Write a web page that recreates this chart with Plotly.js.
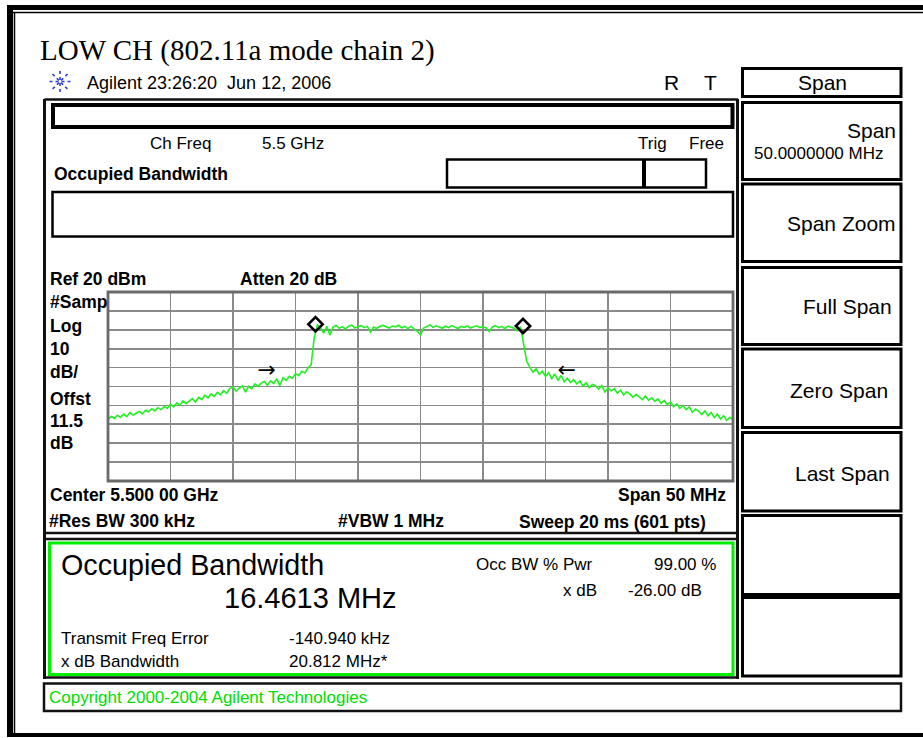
<!DOCTYPE html>
<html>
<head>
<meta charset="utf-8">
<script src="https://cdn.plot.ly/plotly-3.0.1.min.js"></script>
<style>
  html, body { margin: 0; padding: 0; background: #ffffff; }
  #chart { width: 923px; height: 738px; }
</style>
</head>
<body>
<div id="chart"></div>
<script>
// ---------------- DATA ----------------
const startMHz = 5475;      // Center 5.500 00 GHz, Span 50 MHz
const stopMHz = 5525;
const refLevel = 20;        // Ref 20 dBm
const dbPerDiv = 10;        // Log 10 dB/

// trace levels in dBm, one every 0.25 MHz from start to stop
const lowerSkirt = [
  -47.5, -45.8, -46.9, -45.2, -46.3, -44.6, -45.9, -43.8, -45.1, -44.0,
  -43.2, -44.5, -42.6, -43.4, -41.8, -42.9, -41.2, -42.3, -40.5, -41.6,
  -39.4, -40.8, -38.7, -39.9, -37.6, -39.1, -37.9, -36.4, -38.2, -35.8,
  -36.9, -34.6, -36.0, -33.9, -35.2, -33.1, -34.4, -32.2, -33.6, -31.0,
  -30.2, -32.5, -30.8, -29.6, -33.0, -29.9, -31.2, -28.7, -30.0, -28.2,
  -27.4, -29.3, -27.0, -28.4, -26.1, -29.5, -25.4, -26.8, -24.6, -25.7,
  -23.2, -24.3, -21.9, -22.8, -20.1, -18.5
];
const risingEdge = [-4.0];
const plateau = [
  2.6, 1.2, -1.8, 1.9, -2.9, 1.4, 2.3, 0.8, 1.7, 0.3,
  1.9, 2.4, 0.9, 1.6, 2.2, 1.1, 1.8, -1.2, 1.5, 0.7,
  1.9, 2.3, 1.4, 0.9, 2.0, 1.6, 2.4, 1.1, 1.8, 0.6,
  1.9, 0.2, -0.8, -2.6, 0.9, 1.7, 2.6, 1.3, 2.1, 1.5,
  0.8, 1.9, 1.2, 2.2, 1.4, 0.7, 1.8, 1.3, 2.0, 0.9,
  1.6, 2.1, 1.2, 1.7, 1.0, -0.9, 1.5, 2.2, 1.1, 1.8,
  0.6, 1.9, 1.4, 0.8, -0.6, 1.6
];
const fallingEdge = [-7.5, -16.8];
const upperSkirt = [
  -19.9, -22.4, -20.6, -23.5, -21.8, -24.6, -22.7, -25.9, -23.4, -26.8,
  -24.2, -27.5, -25.6, -27.9, -26.4, -28.6, -27.1, -29.8, -28.0, -30.6,
  -28.9, -29.6, -31.4, -29.5, -32.9, -30.8, -32.3, -31.1, -33.6, -32.0,
  -34.5, -32.8, -33.9, -35.7, -34.1, -35.3, -36.9, -35.0, -37.2, -36.0,
  -37.8, -36.6, -38.9, -37.4, -39.6, -38.3, -40.7, -39.2, -41.5, -40.1,
  -42.2, -40.8, -43.6, -41.9, -43.0, -44.8, -42.9, -45.5, -43.8, -46.4,
  -44.6, -47.2, -45.5, -47.9, -46.3, -47.6
];

// occupied-bandwidth markers (diamonds) and x dB arrows
const markerFreqMHz = [5491.6, 5508.2];
const markerLevel = [2.9, 2.0];
const arrowFreqMHz = [5487.7, 5511.7];
const arrowLevel = [-22.2, -22.2];
const arrowText = ['\u2192', '\u2190'];

// ---------------- BUILD ----------------
const levels = lowerSkirt.concat(risingEdge, plateau, fallingEdge, upperSkirt);
const freqs = levels.map((_, i) => startMHz + i * (stopMHz - startMHz) / (levels.length - 1));

const W = 923, H = 738, L = 108, R = 190, T = 292, B = 257;
const PW = W - L - R, PH = H - T - B;
const px = x => (x - L) / PW;
const py = y => (H - B - y) / PH;

const shapes = [];
function rect(x0, y0, x1, y1, color, width) {
  shapes.push({type: 'rect', xref: 'paper', yref: 'paper', layer: 'above',
    x0: px(x0), x1: px(x1), y0: py(y1), y1: py(y0),
    line: {color: color, width: width}, fillcolor: 'rgba(0,0,0,0)'});
}
function seg(x0, y0, x1, y1, color, width, dash) {
  shapes.push({type: 'line', xref: 'paper', yref: 'paper', layer: 'above',
    x0: px(x0), x1: px(x1), y0: py(y0), y1: py(y1),
    line: {color: color, width: width, dash: dash || 'solid'}});
}
const annotations = [];
const SANS = 'Liberation Sans, Arial, sans-serif';
function txt(text, x, y, size, opts) {
  opts = opts || {};
  annotations.push({xref: 'paper', yref: 'paper', x: px(x), y: py(y),
    xanchor: opts.anchor || 'left', yanchor: 'middle', text: text,
    showarrow: false, borderpad: 0,
    font: {family: opts.family || SANS, size: size, color: opts.color || '#000000',
           weight: opts.bold ? 'bold' : 'normal'}});
}

// outer document frame
seg(7, 7.5, 923, 7.5, '#000', 5);
seg(10, 5, 10, 737, '#000', 6);
seg(7, 735, 923, 735, '#000', 4);
seg(13, 12.5, 923, 12.5, '#000', 1.5);
seg(14.5, 12, 14.5, 733, '#000', 1.5);

// Agilent logo
const lc = '#2a3ae0';
seg(49.5, 81.5, 70.5, 81.5, lc, 1.6, 'dot');
seg(60, 71, 60, 92, lc, 1.6, 'dot');
seg(52.5, 74, 67.5, 89, lc, 1.6, 'dot');
seg(67.5, 74, 52.5, 89, lc, 1.6, 'dot');

// display panel
seg(44.5, 99.5, 738, 99.5, '#111', 2.5);
seg(44.5, 99, 44.5, 679, '#111', 3);
seg(737.5, 99, 737.5, 679, '#111', 3);
rect(53, 105, 732.5, 127, '#000', 4);
rect(447, 159.5, 706, 187.5, '#000', 2.5);
seg(644, 159, 644, 188, '#000', 4);
rect(52.5, 192, 733, 236.5, '#000', 2.5);
seg(44.5, 533, 738, 533, '#111', 2.5);
rect(44.5, 539, 737.5, 677.5, '#111', 2.5);
rect(49.5, 543, 733, 674.5, '#00ee00', 3);
rect(44, 683.5, 901, 711, '#111', 2.5);

// grid border
shapes.push({type: 'rect', xref: 'paper', yref: 'paper', layer: 'above',
  x0: 0, x1: 1, y0: 0, y1: 1, line: {color: '#6a6a6a', width: 2.8}});

// softkey column
const keyRows = [[68.5, 96.5], [102.5, 179.5], [184, 261.5], [267.5, 344.5],
                 [349, 427.5], [432.5, 511], [515.5, 594.5], [597.5, 676]];
keyRows.forEach(r => rect(742.5, r[0], 901, r[1], '#000', 3));

// texts
txt('LOW CH (802.11a mode chain 2)', 39, 50, 29, {family: 'Liberation Serif, Times New Roman, serif'});
txt('Agilent 23:26:20\u00a0\u00a0Jun 12, 2006', 86, 82.5, 18);
txt('R', 663, 82, 21);
txt('T', 703, 82, 21);
txt('Span', 822, 83, 21, {anchor: 'center'});
txt('Span', 897, 130.5, 21, {anchor: 'right'});
txt('50.0000000 MHz', 753, 153.5, 17);
txt('Span Zoom', 897, 223, 21, {anchor: 'right'});
txt('Full Span', 893, 306, 21, {anchor: 'right'});
txt('Zero Span', 889, 390, 21, {anchor: 'right'});
txt('Last Span', 891, 473, 21, {anchor: 'right'});

txt('Ch Freq', 149, 143, 17);
txt('5.5 GHz', 261, 143, 17);
txt('Trig', 637, 143, 17);
txt('Free', 688, 143, 17);
txt('Occupied Bandwidth', 53, 174, 17.5, {bold: true});

txt('Ref 20 dBm', 49, 278.5, 17.5, {bold: true});
txt('Atten 20 dB', 239, 278.5, 17.5, {bold: true});
const sideLabels = [['#Samp', 301.5], ['Log', 326], ['10', 349], ['dB/', 372],
                    ['Offst', 399], ['11.5', 421], ['dB', 442.5]];
sideLabels.forEach(s => txt(s[0], 49, s[1], 17.5, {bold: true}));
txt('Center 5.500 00 GHz', 49, 495, 17.5, {bold: true});
txt('Span 50 MHz', 727, 495, 17.5, {bold: true, anchor: 'right'});
txt('#Res BW 300 kHz', 48, 521, 17.5, {bold: true});
txt('#VBW 1 MHz', 337, 521, 17.5, {bold: true});
txt('Sweep 20 ms (601 pts)', 707, 522, 17.5, {bold: true, anchor: 'right'});

txt('Occupied Bandwidth', 60, 565, 28.7);
txt('16.4613 MHz', 223, 598, 29);
txt('Occ BW % Pwr', 475, 564, 17);
txt('99.00 %', 717, 564, 17, {anchor: 'right'});
txt('x dB', 598, 590, 17, {anchor: 'right'});
txt('-26.00 dB', 627, 590, 17);
txt('Transmit Freq Error', 60, 638, 17);
txt('-140.940 kHz', 288, 638, 17);
txt('x dB Bandwidth', 60, 661, 17);
txt('20.812 MHz*', 288, 661, 17);
txt('Copyright 2000-2004 Agilent Technologies', 48, 697.5, 17, {color: '#00dd00'});

const data = [
  {type: 'scatter', mode: 'lines', x: freqs, y: levels,
   line: {color: '#22f022', width: 1.6}, hoverinfo: 'skip', cliponaxis: true},
  {type: 'scatter', mode: 'markers', x: markerFreqMHz, y: markerLevel,
   marker: {symbol: 'diamond-open', size: 11, color: '#000', line: {width: 2.6, color: '#000'}},
   hoverinfo: 'skip', cliponaxis: false},
  {type: 'scatter', mode: 'text', x: arrowFreqMHz, y: arrowLevel, text: arrowText,
   textposition: 'middle center', textfont: {family: 'DejaVu Sans', size: 22, color: '#000'},
   hoverinfo: 'skip', cliponaxis: false}
];

const layout = {
  width: W, height: H,
  margin: {l: L, r: R, t: T, b: B, pad: 0},
  paper_bgcolor: '#ffffff', plot_bgcolor: '#ffffff',
  showlegend: false,
  xaxis: {range: [startMHz, stopMHz], tick0: startMHz, dtick: (stopMHz - startMHz) / 10,
          showgrid: true, gridcolor: '#8a8a8a', gridwidth: 1.6, zeroline: false,
          showticklabels: false, ticks: '', showline: false, fixedrange: true},
  yaxis: {range: [refLevel - 10 * dbPerDiv, refLevel], tick0: refLevel - 10 * dbPerDiv, dtick: dbPerDiv,
          showgrid: true, gridcolor: '#8a8a8a', gridwidth: 1.6, zeroline: false,
          showticklabels: false, ticks: '', showline: false, fixedrange: true},
  shapes: shapes,
  annotations: annotations
};

Plotly.newPlot('chart', data, layout, {staticPlot: true, displayModeBar: false});
</script>
</body>
</html>
